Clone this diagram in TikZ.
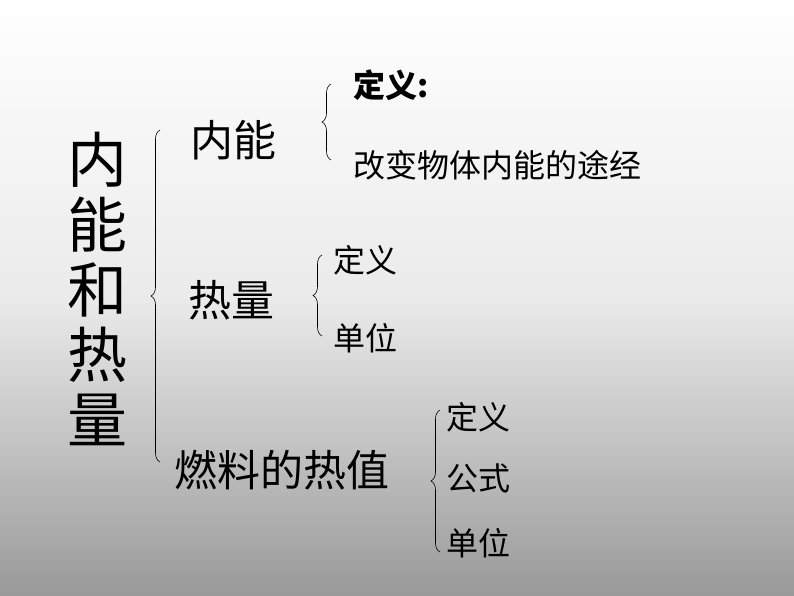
\documentclass[tikz,border=0pt]{standalone}
\usepackage{fontspec}
\setmainfont{Noto Sans CJK SC}
\usetikzlibrary{decorations.pathreplacing}
\tikzset{
  big/.style={font=\fontsize{60}{62}\selectfont, inner sep=0pt},
  mid/.style={font=\fontsize{43}{45}\selectfont, inner sep=0pt},
  sml/.style={font=\fontsize{32}{34}\selectfont, inner sep=0pt, anchor=west},
  brc/.style={decorate, decoration={brace, amplitude=9pt}, line width=0.6pt}
}
\begin{document}
\begin{tikzpicture}[x=1pt,y=-1pt]
  % background
  \shade[top color=white, bottom color=black!40, middle color=black!8] (0,0) rectangle (794,596);
  \useasboundingbox (0,0) rectangle (794,596);
  % title
  \foreach \c [count=\k] in {内,能,和,热,量}{
    \node[big] (title\k) at (97,95+65*\k) {\c};
  }
  \draw[brc] (160,462) -- (160,130);
  % branch 1
  \node[mid, anchor=west] (neng) at (190,140) {内能};
  \draw[brc] (331,160) -- (331,84);
  \node[sml] (def1) at (353,85) {\textbf{定义:}};
  \node[sml] (way1) at (353,165) {改变物体内能的途经};
  % branch 2
  \node[mid, anchor=west] (rel) at (188,300) {热量};
  \draw[brc] (322,336) -- (322,255);
  \node[sml] (def2) at (333,260) {定义};
  \node[sml] (unit2) at (333,338) {单位};
  % branch 3
  \node[mid, anchor=west] (fuel) at (174,470) {燃料的热值};
  \draw[brc] (440,552) -- (440,410);
  \node[sml] (def3) at (446,417) {定义};
  \node[sml] (form3) at (446,478) {公式};
  \node[sml] (unit3) at (446,543) {单位};
\end{tikzpicture}
\end{document}
